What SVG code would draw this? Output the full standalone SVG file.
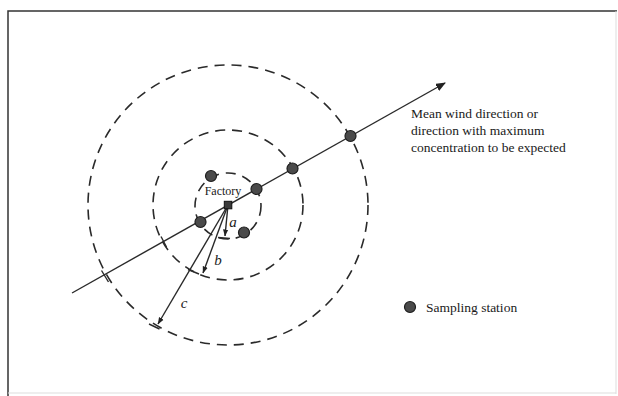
<svg xmlns="http://www.w3.org/2000/svg" width="618" height="396" viewBox="0 0 618 396">
<style>
.frame{stroke:#333;stroke-width:1.5;fill:none}
.ring{fill:none;stroke:#2a2a2a;stroke-width:1.6;stroke-dasharray:10 7}
.ln{stroke:#2a2a2a;stroke-width:1.4;fill:none}
.dot{fill:#4a4a4a;stroke:#1e1e1e;stroke-width:1.2}
.t{font-family:"Liberation Serif","Times New Roman",serif;fill:#1a1a1a}
.it{font-family:"Liberation Serif","Times New Roman",serif;font-style:italic;fill:#222;font-size:15px}
</style>
<defs>
<marker id="ah" viewBox="0 0 10 8" refX="9" refY="4" markerWidth="10" markerHeight="8" markerUnits="userSpaceOnUse" orient="auto">
<path d="M0,0 L10,4 L0,8 Z" fill="#222"/>
</marker>
<marker id="as" viewBox="0 0 8 6" refX="7.5" refY="3" markerWidth="7" markerHeight="6" markerUnits="userSpaceOnUse" orient="auto">
<path d="M0,0 L8,3 L0,6 Z" fill="#222"/>
</marker>
</defs>
<rect width="618" height="396" fill="#fff"/>
<path class="frame" d="M8,396 L8,11 L617,11"/>
<path d="M616,11 L616,394 M8,393 L616,393" stroke="#ddd" stroke-width="1" fill="none"/>
<g id="rings">
<circle class="ring" cx="228" cy="205" r="140"/>
<circle class="ring" cx="228" cy="205" r="75"/>
<circle class="ring" cx="228" cy="206" r="33"/>
</g>
<g id="connectors">
<line id="wind" class="ln" x1="72" y1="293" x2="445" y2="83" marker-end="url(#ah)"/>
<line class="ln" x1="161" y1="236.5" x2="166.5" y2="247"/>
<line class="ln" x1="101.5" y1="270.5" x2="108.5" y2="282"/>
<line id="ra" class="ln" x1="228" y1="205" x2="225" y2="236" marker-end="url(#as)"/>
<line class="ln" x1="218" y1="237.5" x2="230" y2="238.5"/>
<line id="rb" class="ln" x1="228" y1="205" x2="203" y2="273" marker-end="url(#as)"/>
<line class="ln" x1="188" y1="269.5" x2="199" y2="274"/>
<line id="rc" class="ln" x1="228" y1="205" x2="158" y2="324" marker-end="url(#as)"/>
<line class="ln" x1="149" y1="324" x2="159.5" y2="329"/>
</g>
<g id="factory">
<rect x="224.3" y="201.3" width="7.5" height="7.5" fill="#3a3a3a" stroke="#111" stroke-width="1"/>
<text class="t" x="223" y="195" font-size="12" text-anchor="middle" fill="#444">Factory</text>
</g>
<g id="stations">
<circle class="dot" cx="211" cy="176" r="5.5"/>
<circle class="dot" cx="244" cy="232.5" r="5.5"/>
<circle class="dot" cx="200.5" cy="222" r="5.5"/>
<circle class="dot" cx="256.5" cy="189" r="5.5"/>
<circle class="dot" cx="292.5" cy="168.5" r="5.5"/>
<circle class="dot" cx="350.5" cy="136" r="5.5"/>
</g>
<g id="labels">
<text class="it" x="233" y="227" text-anchor="middle">a</text>
<text class="it" x="218" y="265" text-anchor="middle">b</text>
<text class="it" x="184" y="308" text-anchor="middle">c</text>
</g>
<g id="wind-label">
<text class="t" font-size="13.5"><tspan x="411" y="118">Mean wind direction or</tspan><tspan x="411" y="135">direction with maximum</tspan><tspan x="411" y="152">concentration to be expected</tspan></text>
</g>
<g id="legend">
<circle class="dot" cx="410" cy="307" r="5.5"/>
<text class="t" x="426" y="312" font-size="13.5">Sampling station</text>
</g>
</svg>
